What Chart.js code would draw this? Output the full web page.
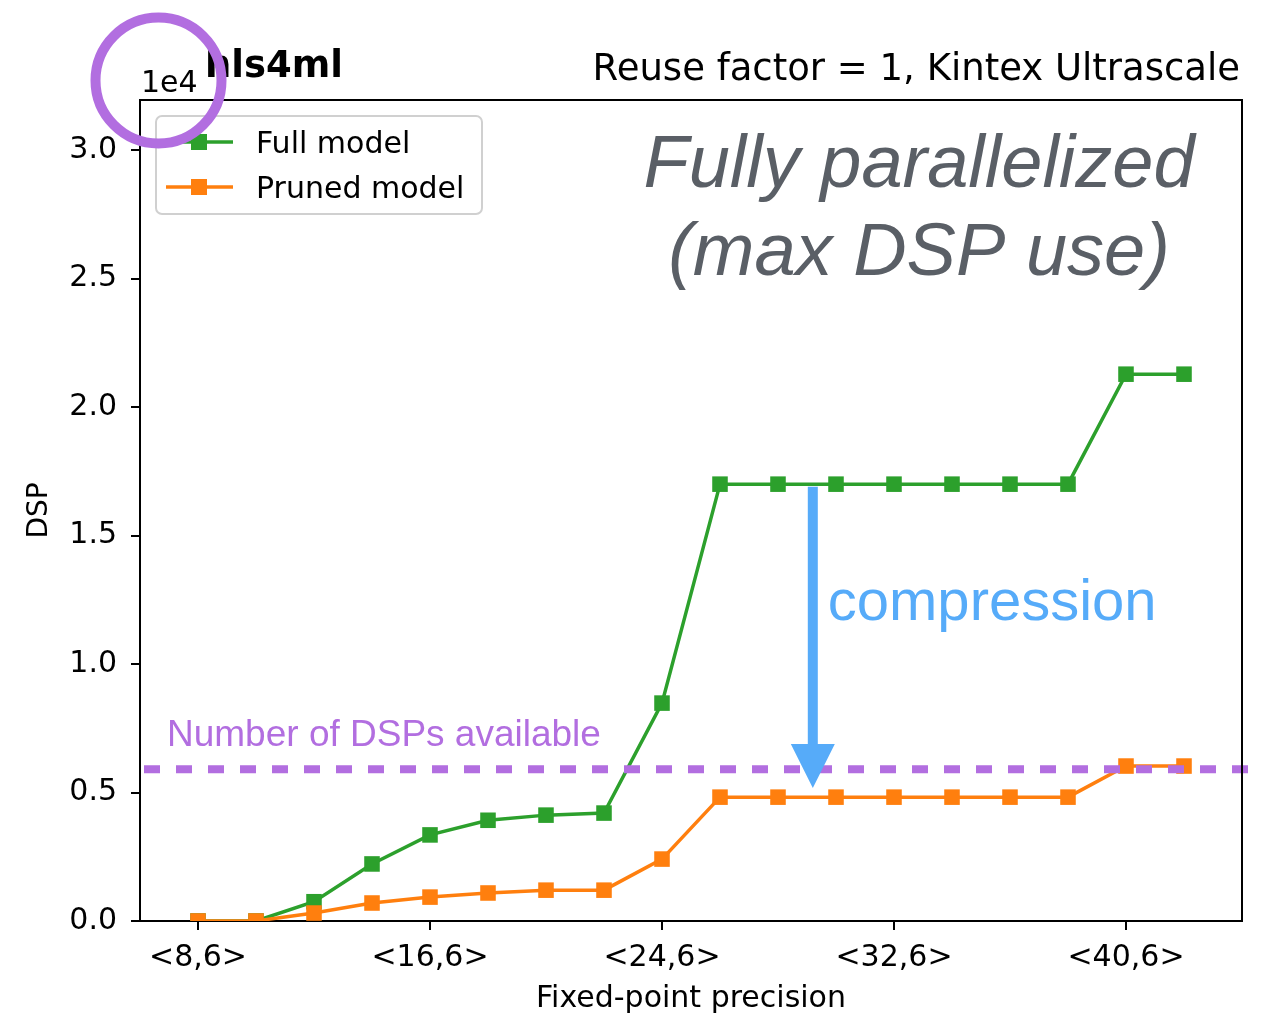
<!DOCTYPE html>
<html>
<head>
<meta charset="utf-8">
<title>hls4ml DSP usage</title>
<script src="https://cdn.jsdelivr.net/npm/chart.js@4.4.1/dist/chart.umd.min.js"></script>
<style>
  html, body { margin: 0; padding: 0; background: #fff; }
  canvas { display: block; }
</style>
</head>
<body>
<canvas id="dspChart" width="1268" height="1013"></canvas>
<script>
// total bit width W of the <W,6> fixed-point type
const precisionBits = [8, 10, 12, 14, 16, 18, 20, 22, 24, 26, 28, 30, 32, 34, 36, 38, 40, 42];
const xTickBits = [8, 16, 24, 32, 40];
const yTicks = [0, 0.5, 1.0, 1.5, 2.0, 2.5, 3.0];

// DSP count, in units of 1e4
const fullModelDSP = [0, 0, 0.075, 0.222, 0.335, 0.392, 0.412, 0.42, 0.848, 1.70, 1.70, 1.70, 1.70, 1.70, 1.70, 1.70, 2.128, 2.128];
const prunedModelDSP = [0, 0, 0.031, 0.07, 0.093, 0.109, 0.12, 0.12, 0.241, 0.482, 0.482, 0.482, 0.482, 0.482, 0.482, 0.482, 0.603, 0.603];
const dspAvailable = 0.591;

const GREEN = '#2ca02c';
const ORANGE = '#ff7f0e';
const PURPLE = '#b26ee0';
const BLUE = '#56abf9';
const MPL_FONT = '"DejaVu Sans", sans-serif';
const HELV = '"Liberation Sans", Arial, sans-serif';

const toPoints = (vals) => precisionBits.map((b, i) => ({ x: b, y: vals[i] }));

const overlay = {
  id: 'overlay',
  afterDatasetsDraw(chart) {
    const { ctx, chartArea: a, scales: { x, y } } = chart;
    ctx.save();

    // DSP budget line, runs a little past the right spine
    const yd = y.getPixelForValue(dspAvailable);
    ctx.strokeStyle = PURPLE;
    ctx.lineWidth = 8;
    ctx.setLineDash([16, 16]);
    ctx.beginPath();
    ctx.moveTo(a.left + 4, yd);
    ctx.lineTo(a.right + 8, yd);
    ctx.stroke();
    ctx.setLineDash([]);

    ctx.fillStyle = PURPLE;
    ctx.font = '37px ' + HELV;
    ctx.textBaseline = 'alphabetic';
    ctx.textAlign = 'left';
    ctx.fillText('Number of DSPs available', a.left + 27, yd - 23);

    // compression arrow
    const ax = x.getPixelForValue(29.2);
    const yTop = y.getPixelForValue(1.69);
    const yTip = y.getPixelForValue(0.518);
    const headLen = 44, headHalf = 22;
    ctx.fillStyle = BLUE;
    ctx.fillRect(ax - 5, yTop, 10, yTip - headLen - yTop + 1);
    ctx.beginPath();
    ctx.moveTo(ax - headHalf, yTip - headLen);
    ctx.lineTo(ax + headHalf, yTip - headLen);
    ctx.lineTo(ax, yTip);
    ctx.closePath();
    ctx.fill();

    ctx.font = '58px ' + HELV;
    ctx.fillText('compression', ax + 15, 620);

    ctx.fillStyle = '#5a5f66';
    ctx.font = 'italic 300 74px ' + HELV;
    ctx.textAlign = 'center';
    ctx.fillText('Fully parallelized', 919, 187);
    ctx.fillText('(max DSP use)', 919, 275);
    ctx.restore();
  },
  afterDraw(chart) {
    const { ctx, chartArea: a } = chart;
    ctx.save();

    // top and right spines
    ctx.strokeStyle = '#000';
    ctx.lineWidth = 2;
    ctx.beginPath();
    ctx.moveTo(a.left - 1, a.top);
    ctx.lineTo(a.right, a.top);
    ctx.lineTo(a.right, a.bottom + 1);
    ctx.stroke();

    // legend
    const lx = 156, ly = 116, lw = 326, lh = 98;
    ctx.fillStyle = 'rgba(255,255,255,0.8)';
    ctx.strokeStyle = '#d0d0d0';
    ctx.lineWidth = 2;
    ctx.beginPath();
    ctx.roundRect(lx, ly, lw, lh, 6);
    ctx.fill();
    ctx.stroke();
    chart.data.datasets.forEach((ds, i) => {
      const ry = 142 + i * 45;
      ctx.strokeStyle = ds.borderColor;
      ctx.lineWidth = 3.5;
      ctx.beginPath();
      ctx.moveTo(166, ry);
      ctx.lineTo(233, ry);
      ctx.stroke();
      ctx.fillStyle = ds.borderColor;
      ctx.fillRect(199 - 8, ry - 8, 16, 16);
      ctx.fillStyle = '#000';
      ctx.font = '30px ' + MPL_FONT;
      ctx.textAlign = 'left';
      ctx.textBaseline = 'alphabetic';
      ctx.fillText(ds.label, 256, ry + 11);
    });

    // titles and offset text
    ctx.fillStyle = '#000';
    ctx.font = 'bold 37px ' + MPL_FONT;
    ctx.textAlign = 'left';
    ctx.fillText('hls4ml', 205, 77);
    ctx.font = '37px ' + MPL_FONT;
    ctx.textAlign = 'right';
    ctx.fillText('Reuse factor = 1, Kintex Ultrascale', 1240, 80);
    ctx.font = '30px ' + MPL_FONT;
    ctx.textAlign = 'left';
    ctx.fillText('1e4', 141, 92);

    // highlight ring around the exponent
    ctx.strokeStyle = PURPLE;
    ctx.lineWidth = 10;
    ctx.beginPath();
    ctx.arc(158.5, 80.5, 63, 0, Math.PI * 2);
    ctx.stroke();
    ctx.restore();
  }
};

const seriesStyle = (color) => ({
  borderColor: color,
  backgroundColor: color,
  borderWidth: 3.5,
  pointStyle: 'rect',
  pointRadius: 11,
  pointBorderWidth: 0,
  pointHoverRadius: 11,
  tension: 0,
  clip: 0
});

new Chart(document.getElementById('dspChart'), {
  type: 'line',
  data: {
    datasets: [
      { label: 'Full model', data: toPoints(fullModelDSP), order: 2, ...seriesStyle(GREEN) },
      { label: 'Pruned model', data: toPoints(prunedModelDSP), order: 1, ...seriesStyle(ORANGE) }
    ]
  },
  options: {
    responsive: false,
    devicePixelRatio: 1,
    animation: false,
    layout: { padding: { top: 100, right: 26, left: 0, bottom: 0 } },
    plugins: { legend: { display: false }, tooltip: { enabled: false } },
    scales: {
      x: {
        type: 'linear',
        min: 6,
        max: 44,
        afterFit: (s) => { s.height = 92; },
        afterBuildTicks: (s) => { s.ticks = xTickBits.map(v => ({ value: v })); },
        border: { display: true, color: '#000', width: 2 },
        grid: { drawOnChartArea: false, drawTicks: true, tickLength: 9, color: '#000', lineWidth: 2 },
        ticks: {
          color: '#000',
          font: { family: MPL_FONT, size: 30 },
          padding: 10,
          maxRotation: 0,
          callback: (v) => '<' + v + ',6>'
        },
        title: {
          display: true,
          text: 'Fixed-point precision',
          color: '#000',
          font: { family: MPL_FONT, size: 30, lineHeight: 0.9 },
          padding: { top: 0, bottom: 0 }
        }
      },
      y: {
        min: 0,
        max: 3.195,
        afterFit: (s) => { s.width = 140; },
        afterBuildTicks: (s) => { s.ticks = yTicks.map(v => ({ value: v })); },
        border: { display: true, color: '#000', width: 2 },
        grid: { drawOnChartArea: false, drawTicks: true, tickLength: 9, color: '#000', lineWidth: 2 },
        ticks: {
          color: '#000',
          font: { family: MPL_FONT, size: 30 },
          padding: 14,
          callback: (v) => v.toFixed(1)
        },
        title: {
          display: true,
          text: 'DSP',
          color: '#000',
          font: { family: MPL_FONT, size: 28, lineHeight: 1 },
          padding: { top: 26, bottom: 0 }
        }
      }
    }
  },
  plugins: [overlay]
});
</script>
</body>
</html>
